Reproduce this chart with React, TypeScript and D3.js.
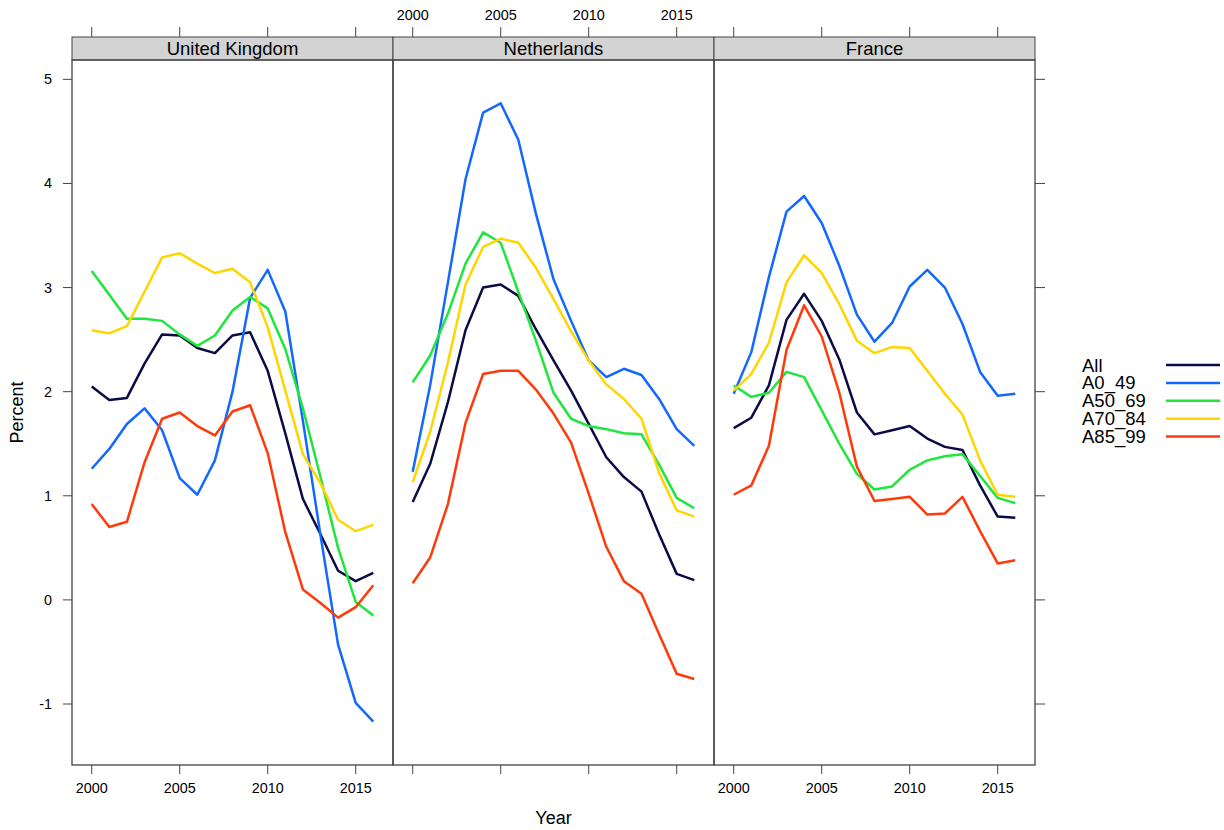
import React from "react";
import * as d3 from "d3";

// Years shared by every panel
const years: number[] = d3.range(2000, 2017);

const countries: string[] = ["United Kingdom", "Netherlands", "France"];
const groups: string[] = ["All", "A0_49", "A50_69", "A70_84", "A85_99"];
const groupColors: string[] = ["#0b0b45", "#1268ff", "#1ee63c", "#ffd500", "#ff3a0a"];

// United Kingdom
const ukAll: number[] = [2.05, 1.92, 1.94, 2.27, 2.55, 2.54, 2.42, 2.37, 2.54, 2.57, 2.2, 1.6, 0.97, 0.63, 0.28, 0.18, 0.26];
const ukA0_49: number[] = [1.26, 1.45, 1.69, 1.84, 1.63, 1.17, 1.01, 1.34, 2.0, 2.9, 3.17, 2.77, 1.72, 0.62, -0.43, -0.99, -1.17];
const ukA50_69: number[] = [3.16, 2.93, 2.7, 2.7, 2.68, 2.55, 2.44, 2.54, 2.78, 2.91, 2.8, 2.41, 1.84, 1.18, 0.5, -0.02, -0.15];
const ukA70_84: number[] = [2.59, 2.56, 2.63, 2.96, 3.29, 3.33, 3.23, 3.14, 3.18, 3.05, 2.62, 2.01, 1.4, 1.12, 0.77, 0.66, 0.72];
const ukA85_99: number[] = [0.92, 0.7, 0.75, 1.32, 1.74, 1.8, 1.67, 1.58, 1.81, 1.87, 1.41, 0.65, 0.1, -0.03, -0.17, -0.07, 0.14];

// Netherlands
const nlAll: number[] = [0.94, 1.31, 1.9, 2.59, 3.0, 3.03, 2.92, 2.6, 2.3, 2.01, 1.69, 1.37, 1.18, 1.04, 0.63, 0.25, 0.19];
const nlA0_49: number[] = [1.23, 2.07, 3.05, 4.04, 4.68, 4.77, 4.42, 3.71, 3.08, 2.68, 2.3, 2.14, 2.22, 2.16, 1.93, 1.64, 1.48];
const nlA50_69: number[] = [2.09, 2.35, 2.75, 3.23, 3.53, 3.43, 2.96, 2.49, 1.99, 1.74, 1.67, 1.64, 1.6, 1.59, 1.3, 0.98, 0.88];
const nlA70_84: number[] = [1.13, 1.62, 2.28, 3.03, 3.39, 3.47, 3.43, 3.19, 2.89, 2.58, 2.3, 2.07, 1.93, 1.74, 1.22, 0.86, 0.8];
const nlA85_99: number[] = [0.16, 0.41, 0.92, 1.7, 2.17, 2.2, 2.2, 2.02, 1.79, 1.51, 1.02, 0.51, 0.18, 0.06, -0.33, -0.71, -0.76];

// France
const frAll: number[] = [1.65, 1.75, 2.06, 2.69, 2.94, 2.68, 2.31, 1.8, 1.59, 1.63, 1.67, 1.55, 1.47, 1.44, 1.1, 0.8, 0.79];
const frA0_49: number[] = [1.98, 2.38, 3.1, 3.73, 3.88, 3.62, 3.21, 2.74, 2.48, 2.66, 3.01, 3.17, 3.0, 2.65, 2.19, 1.96, 1.98];
const frA50_69: number[] = [2.06, 1.95, 1.99, 2.19, 2.14, 1.82, 1.5, 1.21, 1.06, 1.09, 1.25, 1.34, 1.38, 1.4, 1.19, 0.98, 0.93];
const frA70_84: number[] = [2.01, 2.17, 2.47, 3.05, 3.31, 3.14, 2.84, 2.49, 2.37, 2.43, 2.42, 2.2, 1.98, 1.78, 1.34, 1.01, 0.99];
const frA85_99: number[] = [1.01, 1.1, 1.48, 2.4, 2.83, 2.53, 1.99, 1.28, 0.95, 0.97, 0.99, 0.82, 0.83, 0.99, 0.66, 0.35, 0.38];

const panelSeries: number[][][] = [
  [ukAll, ukA0_49, ukA50_69, ukA70_84, ukA85_99],
  [nlAll, nlA0_49, nlA50_69, nlA70_84, nlA85_99],
  [frAll, frA0_49, frA50_69, frA70_84, frA85_99],
];

const xTicks: number[] = [2000, 2005, 2010, 2015];
const yTicks: number[] = [-1, 0, 1, 2, 3, 4, 5];

const W = 1224;
const H = 830;
const left = 72;
const panelW = 321;
const plotTop = 60;
const plotBottom = 765;
const stripTop = 37;
const font = "'Liberation Sans', Arial, Helvetica, sans-serif";
const frame = "#444";

export default function App() {
  const allVals = panelSeries.flat(2);
  const [yMin, yMax] = d3.extent(allVals) as [number, number];
  const yPad = (yMax - yMin) * 0.07;
  const y = d3.scaleLinear().domain([yMin - yPad, yMax + yPad]).range([plotBottom, plotTop]);

  const [x0, x1] = d3.extent(years) as [number, number];
  const xPad = (x1 - x0) * 0.07;

  const line = (xs: d3.ScaleLinear<number, number>) =>
    d3
      .line<number>()
      .x((_, i) => xs(years[i]))
      .y((v) => y(v));

  const right = left + panelW * countries.length;

  return (
    <svg width={W} height={H} style={{ display: "block", position: "absolute", left: 0, top: 0 }} fontFamily={font}>
      <rect width={W} height={H} fill="#fff" />
      {countries.map((name, p) => {
        const pl = left + p * panelW;
        const x = d3.scaleLinear().domain([x0 - xPad, x1 + xPad]).range([pl, pl + panelW]);
        const gen = line(x);
        const labelsTop = p % 2 === 1;
        return (
          <g key={name}>
            {/* strip */}
            <rect x={pl} y={stripTop} width={panelW} height={plotTop - stripTop} fill="#d3d3d3" stroke={frame} strokeWidth={1} />
            <text x={pl + panelW / 2} y={(stripTop + plotTop) / 2 + 6.5} textAnchor="middle" fontSize={18.5} fill="#000">
              {name}
            </text>
            {/* series */}
            <g clipPath={`url(#clip${p})`}>
              {panelSeries[p].map((vals, g) => (
                <path key={g} d={gen(vals) || ""} fill="none" stroke={groupColors[g]} strokeWidth={2.5} strokeLinejoin="round" />
              ))}
            </g>
            <clipPath id={`clip${p}`}>
              <rect x={pl} y={plotTop} width={panelW} height={plotBottom - plotTop} />
            </clipPath>
            <rect x={pl} y={plotTop} width={panelW} height={plotBottom - plotTop} fill="none" stroke={frame} strokeWidth={1.3} />
            {/* x ticks, top and bottom */}
            {xTicks.map((t) => (
              <g key={t}>
                <line x1={x(t)} x2={x(t)} y1={plotBottom} y2={plotBottom + 9} stroke={frame} strokeWidth={1} />
                <line x1={x(t)} x2={x(t)} y1={stripTop} y2={stripTop - 10} stroke={frame} strokeWidth={1} />
                {labelsTop ? (
                  <text x={x(t)} y={19.5} textAnchor="middle" fontSize={14.4} fill="#000">
                    {t}
                  </text>
                ) : (
                  <text x={x(t)} y={793} textAnchor="middle" fontSize={14.4} fill="#000">
                    {t}
                  </text>
                )}
              </g>
            ))}
          </g>
        );
      })}
      {/* y axis: labels on the left, ticks on both sides */}
      {yTicks.map((t) => (
        <g key={t}>
          <line x1={left - 9} x2={left} y1={y(t)} y2={y(t)} stroke={frame} strokeWidth={1} />
          <line x1={right} x2={right + 10} y1={y(t)} y2={y(t)} stroke={frame} strokeWidth={1} />
          <text x={52} y={y(t) + 5} textAnchor="end" fontSize={14.4} fill="#000">
            {t}
          </text>
        </g>
      ))}
      <text x={(left + right) / 2} y={824} textAnchor="middle" fontSize={18} fill="#000">
        Year
      </text>
      <text transform={`translate(23,${(plotTop + plotBottom) / 2}) rotate(-90)`} textAnchor="middle" fontSize={18} fill="#000">
        Percent
      </text>
      {/* legend */}
      {groups.map((g, i) => {
        const ly = 365 + i * 17.9;
        return (
          <g key={g}>
            <text x={1082} y={ly + 6.5} fontSize={18.5} fill="#000">
              {g}
            </text>
            <line x1={1166} x2={1220} y1={ly} y2={ly} stroke={groupColors[i]} strokeWidth={2.5} />
          </g>
        );
      })}
    </svg>
  );
}
